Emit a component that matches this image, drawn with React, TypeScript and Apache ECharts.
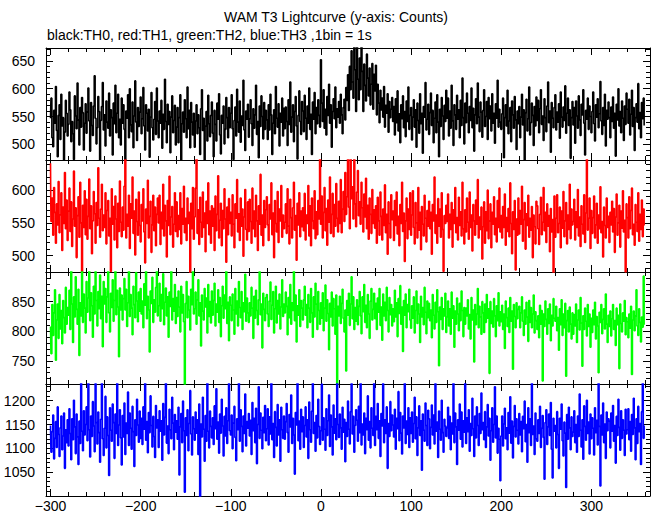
import React, { useEffect, useRef } from "react";
import * as echarts from "echarts";

const TITLE = "WAM T3 Lightcurve (y-axis: Counts)";
const SUBTITLE = "black:TH0, red:TH1, green:TH2, blue:TH3 ,1bin = 1s";

const START_TIME = -300;
const BIN_SIZE = 1;

const th0 = [
547,583,512,496,561,538,604,525,478,552,571,509,590,533,548,467,522,579,556,515,
536,594,562,505,541,519,473,587,551,528,610,544,499,566,531,584,557,490,538,573,
520,558,601,542,488,575,534,516,569,623,547,501,530,586,559,472,543,568,611,526,
553,497,578,540,529,592,515,562,548,481,574,537,606,521,556,590,512,545,499,583,
538,571,527,469,560,547,589,512,600,535,523,576,494,551,614,540,507,566,532,558,
585,519,546,602,533,490,571,556,524,563,477,549,593,530,508,545,577,518,601,542,
512,560,538,579,493,554,527,617,541,503,572,536,559,485,549,587,521,543,570,499,
531,566,503,548,589,471,537,558,522,580,546,512,603,528,561,494,575,540,517,556,
495,542,571,519,553,530,482,564,598,525,547,468,533,559,506,588,537,514,552,576,
520,478,561,536,506,574,545,591,517,483,552,538,569,501,527,584,548,512,566,530,
556,589,528,473,543,567,515,599,540,522,578,504,551,534,615,526,489,560,545,572,
513,546,580,537,498,564,529,553,606,518,541,476,569,532,587,550,510,575,527,561,
544,509,571,526,590,553,482,538,562,519,604,547,531,573,497,556,540,583,515,565,
528,567,541,498,580,536,612,522,549,571,505,559,586,533,474,552,596,541,518,577,
560,523,588,547,509,569,538,601,527,554,482,576,545,593,519,566,537,580,552,531,
652,574,541,598,529,563,517,586,552,608,538,571,495,559,582,546,603,530,564,549,
577,538,590,553,519,566,581,544,602,579,625,561,640,598,668,612,583,692,634,559,
681,617,580,655,598,676,631,559,644,606,578,662,619,587,637,571,608,645,563,626,
596,642,553,608,574,539,597,562,583,549,604,531,570,556,591,522,577,548,563,584,
541,568,517,582,539,596,524,555,503,571,546,587,530,559,514,578,541,603,527,552,
566,508,549,580,531,562,495,574,543,520,591,537,556,484,568,549,611,526,545,572,
518,557,592,534,561,503,547,576,521,589,540,478,563,532,584,551,509,570,541,597,
547,583,515,560,529,606,542,498,571,553,527,588,545,562,512,579,534,619,548,501,
574,539,592,556,521,568,543,601,530,565,488,553,582,537,610,549,523,576,558,513,
561,598,532,550,577,509,584,546,569,524,591,538,556,502,573,547,615,531,563,540,
527,555,583,476,548,571,533,597,519,542,566,505,578,553,529,586,544,491,560,537,
568,512,549,590,535,562,470,557,581,524,546,603,517,539,574,552,498,568,533,585,
543,579,521,564,598,536,551,507,582,548,523,569,612,539,560,486,575,547,530,566,
589,526,558,540,573,511,594,549,531,567,543,605,520,556,583,534,562,475,548,577,
535,566,502,578,551,529,587,544,516,572,553,598,538,481,561,545,583,527,569,550,
521,559,594,537,506,571,549,582,530,555,613,542,518,566,534,590,497,561,545,576,
548,512,567,541,585,529,556,479,572,544,600,533,559,521,578,547,507,569,536,592,
563,538,581,517,554,597,532,566,489,548,573,540,609,528,557,512,575,546,583,534
];

const th1 = [
641,552,588,531,604,566,519,579,547,613,535,562,596,508,574,549,627,541,585,523,
568,603,537,582,514,556,629,545,573,497,561,590,528,612,550,470,577,543,599,532,
586,525,560,617,541,576,503,553,598,564,519,581,546,634,557,528,571,609,538,562,
543,596,518,569,584,530,557,476,602,548,575,524,591,556,512,580,537,614,551,529,
574,539,606,650,527,563,545,592,511,579,557,620,534,568,501,586,552,531,597,546,
521,578,553,602,536,489,571,549,615,527,560,583,505,547,592,538,574,515,563,588,
550,592,517,566,541,609,530,577,553,498,584,546,621,532,559,575,513,548,596,537,
582,529,561,540,596,518,572,548,606,535,557,523,588,549,566,474,580,541,604,525,
559,603,650,534,570,517,589,551,528,597,543,565,506,583,549,611,532,568,519,576,
545,572,508,591,538,563,622,527,554,580,515,569,541,602,556,490,574,532,587,549,
566,530,593,548,512,579,557,616,536,564,523,588,545,571,499,559,601,540,524,582,
537,586,552,519,603,541,568,529,592,553,508,576,548,624,531,562,515,584,543,570,
590,547,523,578,556,611,532,565,497,584,549,536,598,520,571,553,607,528,562,541,
551,579,534,602,545,518,586,558,527,573,612,539,561,493,580,547,596,529,568,544,
573,538,595,524,562,549,607,530,576,515,588,553,541,599,526,567,532,584,556,650,
548,591,527,566,604,538,572,516,585,551,620,534,563,595,529,578,545,610,557,536,
583,549,616,535,571,598,552,627,563,590,648,574,541,662,587,605,556,651,579,544,
597,630,561,582,548,612,573,536,594,559,618,541,577,525,588,563,534,601,549,570,
542,576,519,589,553,531,597,560,524,571,546,608,535,563,502,582,549,527,593,555,
568,523,584,546,597,533,560,515,578,549,612,537,565,491,553,588,526,571,540,596,
531,562,599,543,518,581,550,527,604,539,566,509,575,548,530,592,557,521,569,545,
583,541,566,502,578,553,620,534,562,519,587,545,571,528,596,540,476,561,549,577,
552,594,527,563,540,581,513,570,549,604,535,558,524,589,546,567,530,612,541,518,
570,536,588,551,525,597,543,562,507,578,553,531,585,548,616,527,559,540,574,495,
544,582,519,567,538,600,526,553,579,512,566,548,590,532,557,521,584,543,603,536,
561,527,575,543,594,516,558,537,572,529,611,549,503,567,540,584,478,556,531,588,
533,569,548,606,522,555,581,510,564,546,592,528,557,539,575,497,562,544,518,583,
576,541,517,563,589,532,551,604,538,566,520,579,545,561,506,572,536,555,473,591,
528,557,593,535,549,574,512,568,542,598,529,553,581,518,562,540,609,526,571,547,
552,586,524,567,543,601,530,559,514,576,548,533,593,520,565,662,539,557,588,511,
569,534,558,591,527,547,580,519,562,541,605,535,552,498,574,546,527,588,543,560,
520,566,547,583,536,572,505,559,594,531,550,577,513,568,542,599,536,554,475,579,
558,527,590,541,569,603,532,548,516,578,551,537,596,522,563,540,585,529,571,546
];

const th2 = [
808,762,845,793,831,870,751,819,846,788,862,804,835,779,852,823,797,874,812,840,
827,869,803,905,846,781,858,824,892,837,812,871,759,848,826,903,815,863,839,797,
884,832,856,911,818,865,843,790,876,829,901,852,809,867,838,895,821,859,774,884,
846,872,815,858,906,831,799,864,840,887,817,852,903,828,869,841,757,873,836,861,
819,855,889,836,871,808,848,917,825,862,839,794,876,845,823,899,851,816,866,834,
872,829,851,806,880,844,907,821,859,836,765,868,847,891,815,853,832,874,903,826,
843,881,817,862,838,897,811,849,873,826,858,790,866,842,905,819,855,834,879,813,
857,825,868,841,799,876,831,862,816,710,847,884,823,859,836,802,871,845,909,829,
838,866,812,853,887,826,848,775,861,834,819,872,841,856,797,879,825,850,814,868,
827,852,881,809,846,832,870,815,857,791,843,876,822,861,838,902,813,849,784,858,
844,818,863,836,795,872,829,851,809,884,840,823,867,803,848,833,896,817,856,831,
815,848,826,874,839,788,859,822,869,835,811,853,901,828,846,772,864,837,818,857,
862,829,808,851,883,820,844,867,797,838,876,814,852,829,863,804,841,887,825,846,
831,866,842,794,857,823,879,812,848,835,903,818,861,782,843,827,870,808,852,839,
819,853,876,827,845,806,862,839,815,872,831,790,858,824,881,846,803,867,835,812,
848,822,865,801,839,878,817,853,830,769,847,824,866,809,855,838,795,861,708,842,
826,859,813,847,871,822,799,836,733,852,827,864,810,846,892,821,858,803,840,817,
853,811,842,867,826,796,858,833,879,815,844,806,862,829,788,851,872,819,837,864,
821,847,803,856,832,872,810,841,785,863,826,849,818,874,835,799,857,828,845,809,
838,816,869,824,848,791,855,830,877,812,841,766,852,827,863,806,845,833,871,819,
805,843,822,858,797,835,868,813,846,829,781,859,824,840,811,874,832,796,851,823,
847,818,836,789,862,827,804,849,815,870,833,742,841,820,857,803,838,826,864,798,
824,851,809,838,795,866,822,843,773,834,812,856,829,801,847,818,868,835,791,840,
812,839,826,853,804,828,787,857,819,836,748,845,811,829,872,806,842,824,795,850,
831,798,846,815,862,822,838,729,850,813,834,807,855,826,791,843,818,865,809,833,
816,844,803,829,771,851,823,808,839,798,857,817,834,736,845,825,806,848,821,837,
842,806,831,858,817,793,836,812,849,824,783,852,815,840,806,829,861,797,833,818,
803,826,789,844,812,835,716,829,808,851,820,795,838,813,846,784,827,809,855,822,
817,842,801,823,768,838,811,853,793,829,806,847,724,818,835,799,841,812,787,831,
795,828,809,846,781,819,836,802,857,814,741,826,803,839,817,792,845,808,829,773,
822,798,836,811,849,787,825,809,730,832,815,845,796,820,838,804,863,812,781,827,
808,834,792,821,845,803,818,776,839,811,827,737,846,813,799,831,817,852,794,823,
816,789,829,805,842,727,819,834,801,826,870,809,793,838,815,782,824,807,893,811
];

const th3 = [
1148,1092,1135,1170,1078,1121,1156,1102,1187,1129,1083,1143,1168,1097,1126,1174,1058,1139,1112,1160,
1105,1183,1131,1076,1162,1118,1201,1145,1089,1172,1124,1066,1157,1110,1238,1136,1095,1179,1128,1150,
1187,1116,1242,1139,1082,1168,1125,1198,1147,1093,1236,1154,1109,1176,1133,1071,1161,1240,1120,1085,
1142,1209,1101,1166,1127,1043,1185,1138,1115,1193,1154,1079,1172,1131,1244,1106,1149,1181,1122,1065,
1169,1124,1195,1087,1153,1131,1218,1106,1174,1142,1098,1188,1135,1062,1160,1127,1203,1149,1113,1178,
1121,1163,1108,1187,1140,1239,1117,1156,1091,1175,1133,1210,1148,1103,1167,1125,1081,1190,1143,1160,
1102,1179,1136,1158,1075,1194,1128,1165,1237,1111,1147,1089,1182,1139,1120,1207,1153,1097,1171,1134,
1158,1119,1186,1044,1145,1173,1112,1199,1137,1008,1164,1127,1181,1095,1152,1221,1130,1086,1166,1141,
1117,1176,1132,1160,1087,1193,998,1151,1124,1207,1140,1073,1169,1115,1240,1136,1101,1178,1146,1122,
1164,1108,1189,1141,1225,1119,1155,1090,1172,1132,1203,1147,1084,1167,1126,1185,1110,1158,1236,1137,
1128,1170,1099,1153,1188,1123,1074,1162,1139,1241,1115,1181,1146,1093,1168,1131,1214,1105,1156,1142,
1173,1126,1159,1087,1196,1137,1163,1112,1184,1068,1150,1229,1121,1174,1138,1099,1165,1133,1190,1116,
1141,1183,1107,1166,1130,1239,1118,1152,1081,1177,1144,1105,1192,1128,1160,1073,1186,1139,1121,1168,
1119,1156,1194,1133,1092,1171,1145,1212,1110,1163,1128,1046,1175,1149,1238,1116,1157,1098,1182,1135,
1166,1102,1148,1187,1124,1160,1079,1197,1139,1113,1178,1240,1131,1154,1094,1169,1122,1203,1146,1108,
1137,1235,1117,1164,1140,1096,1183,1127,1158,1212,1104,1170,1145,1086,1191,1132,1162,1118,1240,1150,
1123,1172,1143,1098,1186,1134,1161,1072,1154,1125,1199,1140,1109,1177,1236,1130,1167,1092,1148,1181,
1159,1115,1188,1133,1241,1107,1151,1128,1174,1089,1163,1139,1210,1117,1156,1101,1185,1142,1127,1238,
1106,1167,1139,1194,1121,1158,1083,1173,1147,1236,1112,1160,1131,1187,1058,1152,1125,1198,1137,1170,
1149,1124,1182,1098,1163,1141,1219,1116,1175,1132,1088,1168,1143,1240,1110,1157,1129,1185,1102,1164,
1131,1176,1113,1152,1207,1120,1166,1085,1143,1189,1127,1158,1054,1172,1138,1115,1195,1148,1106,1180,
1162,1099,1144,1191,1128,1170,1109,1236,1136,1155,1081,1178,1140,1117,1201,1133,1092,1161,1147,1125,
1143,1186,1121,1167,1097,1153,1130,1240,1112,1174,1145,1066,1160,1138,1193,1119,1176,1103,1158,1134,
1239,1110,1164,1135,1181,1094,1152,1127,1205,1141,1083,1168,1122,1187,1148,1106,1173,1131,1216,1139,
1154,1118,1177,1102,1145,1192,1126,1163,1075,1137,1185,1113,1150,1229,1122,1168,1090,1142,1119,1032,
1126,1168,1105,1151,1184,1120,1143,1097,1175,1132,1208,1111,1157,1080,1146,1190,1124,1162,1138,1109,
1173,1128,1156,1093,1167,1141,1199,1114,1150,1071,1185,1133,1162,1106,1237,1129,1147,1087,1174,1120,
1115,1160,1131,1188,1102,1142,1169,1123,1035,1154,1181,1108,1145,1172,1127,1196,1098,1038,1163,1136,
1148,1101,1177,1129,1058,1163,1140,1193,1116,1084,1155,1132,1018,1171,1119,1186,1143,1097,1166,1125,
1134,1179,1112,1150,1092,1168,1125,1214,1138,1103,1160,1077,1189,1146,1117,1201,1131,1155,1088,1172,
1120,1164,1142,1086,1185,1133,1159,1107,1238,1146,1021,1170,1128,1195,1112,1151,1079,1176,1137,1162,
1157,1101,1174,1136,1190,1115,1148,1069,1167,1127,1203,1144,1096,1179,1121,1160,1138,1085,1182,1130,
1139,1183,1118,1156,1094,1171,1129,1205,1143,1076,1162,1110,1188,1135,1152,1066,1177,1240,1121,1148
];

const seriesNames = ["TH0", "TH1", "TH2", "TH3"];
const seriesColors = ["#000000", "#ff0000", "#00ff00", "#0000ff"];
const seriesValues = [th0, th1, th2, th3];

const X_MIN = -305;
const X_MAX = 365;
const xMajorTicks = [-300, -200, -100, 0, 100, 200, 300];
const xMinorTicks = [-300, -280, -260, -240, -220, -200, -180, -160, -140, -120, -100, -80, -60, -40, -20, 0, 20, 40, 60, 80, 100, 120, 140, 160, 180, 200, 220, 240, 260, 280, 300, 320, 340, 360];

const yRanges = [[472, 673], [475, 646], [711, 900], [1000, 1235]];
const yMajorTicks = [[500, 550, 600, 650], [500, 550, 600], [750, 800, 850], [1050, 1100, 1150, 1200]];
const Y_MINOR_STEP = 10;

const FONT = "'Liberation Sans', Arial, Helvetica, sans-serif";
const GRID_LEFT = 46;
const GRID_WIDTH = 604;
const GRID_TOP = 48;
const PANEL_H = 112;

function minorValues(lo: number, hi: number, step: number): number[] {
  const out: number[] = [];
  for (let v = Math.ceil(lo / step) * step; v <= hi; v += step) out.push(v);
  return out;
}

const lineStyle = { color: "#000", width: 1 };

function xAxisDef(p: number, position: string, major: boolean, labels: boolean) {
  return {
    type: "value",
    gridIndex: p,
    position,
    min: X_MIN,
    max: X_MAX,
    axisLine: { show: major, onZero: false, lineStyle },
    axisTick: {
      show: true,
      inside: true,
      length: major ? 7 : 4,
      customValues: major ? xMajorTicks : xMinorTicks,
      lineStyle,
    },
    axisLabel: labels
      ? {
          show: true,
          customValues: xMajorTicks,
          color: "#000",
          fontSize: 14,
          fontFamily: FONT,
          margin: 3,
          formatter: (v: number) => String(v).replace("-", "\u2212"),
        }
      : { show: false },
    splitLine: { show: false },
  };
}

function yAxisDef(p: number, position: string, major: boolean, labels: boolean) {
  const [lo, hi] = yRanges[p];
  return {
    type: "value",
    gridIndex: p,
    position,
    min: lo,
    max: hi,
    axisLine: { show: major, onZero: false, lineStyle },
    axisTick: {
      show: true,
      inside: true,
      length: major ? 7 : 4,
      customValues: major ? yMajorTicks[p] : minorValues(lo, hi, Y_MINOR_STEP),
      lineStyle,
    },
    axisLabel: labels
      ? {
          show: true,
          customValues: yMajorTicks[p],
          color: "#000",
          fontSize: 14,
          fontFamily: FONT,
          margin: 11,
          formatter: (v: number) => String(v),
        }
      : { show: false },
    splitLine: { show: false },
  };
}

export default function App() {
  const ref = useRef<HTMLDivElement>(null);
  useEffect(() => {
    document.body.style.margin = "0";
    if (!ref.current) return;
    const chart = echarts.init(ref.current, null, { renderer: "svg" });
    const grids: any[] = [];
    const xAxes: any[] = [];
    const yAxes: any[] = [];
    const series: any[] = [];
    for (let p = 0; p < 4; p++) {
      grids.push({ left: GRID_LEFT, width: GRID_WIDTH, top: GRID_TOP + p * PANEL_H, height: PANEL_H, show: false });
      xAxes.push(xAxisDef(p, "bottom", true, p === 3));
      xAxes.push(xAxisDef(p, "top", true, false));
      xAxes.push(xAxisDef(p, "bottom", false, false));
      xAxes.push(xAxisDef(p, "top", false, false));
      yAxes.push(yAxisDef(p, "left", true, true));
      yAxes.push(yAxisDef(p, "right", true, false));
      yAxes.push(yAxisDef(p, "left", false, false));
      yAxes.push(yAxisDef(p, "right", false, false));
      series.push({
        name: seriesNames[p],
        type: "line",
        xAxisIndex: p * 4,
        yAxisIndex: p * 4,
        data: seriesValues[p].map((v, i) => [START_TIME + i * BIN_SIZE, v]),
        step: "middle",
        symbol: "none",
        showSymbol: false,
        clip: true,
        silent: true,
        lineStyle: { color: seriesColors[p], width: 1.6 },
        itemStyle: { color: seriesColors[p] },
      });
    }
    chart.setOption({
      animation: false,
      backgroundColor: "#ffffff",
      grid: grids,
      xAxis: xAxes,
      yAxis: yAxes,
      series,
      graphic: [
        {
          type: "text",
          x: 336,
          y: 17,
          style: { text: TITLE, fontSize: 14, fontFamily: FONT, fill: "#000", align: "center", verticalAlign: "middle" },
        },
        {
          type: "text",
          x: 47,
          y: 35,
          style: { text: SUBTITLE, fontSize: 14, fontFamily: FONT, fill: "#000", align: "left", verticalAlign: "middle" },
        },
      ],
    });
    return () => chart.dispose();
  }, []);
  return <div ref={ref} style={{ width: 652, height: 515 }} />;
}
